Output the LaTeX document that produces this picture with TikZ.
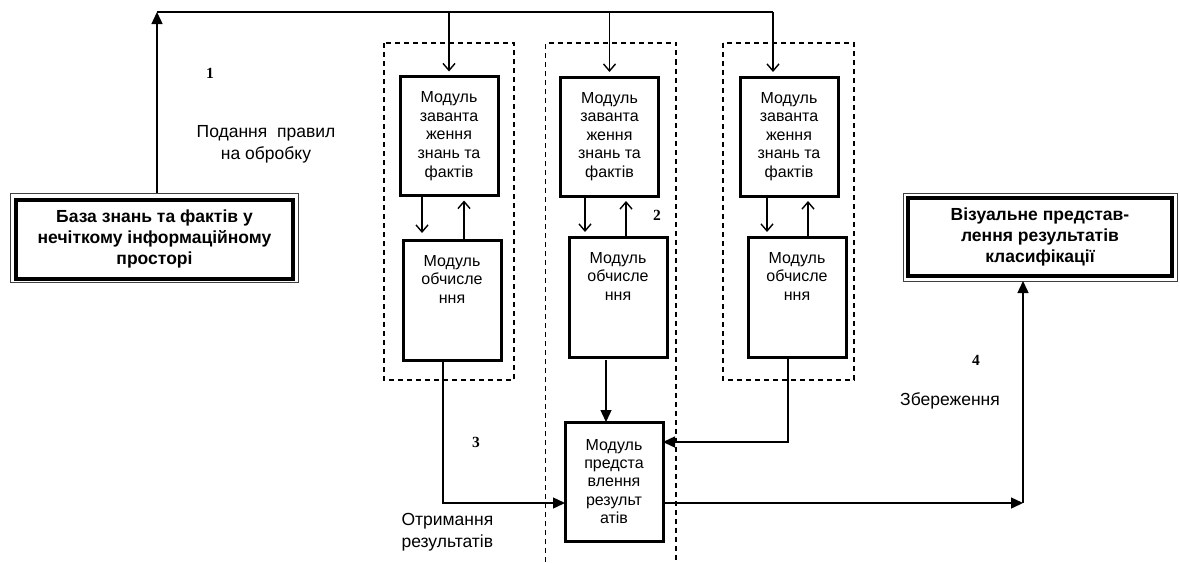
\documentclass[tikz,border=0pt]{standalone}
\usepackage{fontspec}
\setmainfont{Liberation Sans}
\newfontfamily\numfont{Liberation Serif}
\usetikzlibrary{arrows.meta,calc}
\tikzset{
  mod/.style={draw, line width=3pt, minimum width=98pt, minimum height=119pt, inner sep=0pt, outer sep=0pt, align=center, font=\fontsize{16}{18.6}\selectfont},
  big/.style={draw, line width=4pt, align=center, inner sep=0pt, outer sep=0pt, font=\bfseries\fontsize{17.5}{20.8}\selectfont},
  thinframe/.style={line width=0.9pt, black!75},
  cont/.style={line width=1.2pt, dash pattern=on 5pt off 4pt},
  conn/.style={line width=1.4pt},
  openarrow/.style={conn, -{Straight Barb[width=12pt,length=7pt]}},
  farrow/.style={conn, -{Triangle[width=11pt,length=12pt]}},
  lbl/.style={font=\fontsize{17.5}{22}\selectfont, align=center},
  num/.style={font=\numfont\bfseries\fontsize{15.5}{15.5}\selectfont},
  sublab/.style={anchor=north, yshift=-15pt, align=center, inner sep=0pt, font=\fontsize{16}{18.6}\selectfont}
}
\begin{document}
\begin{tikzpicture}[x=1pt,y=-1pt]
\useasboundingbox (0,0) rectangle (1180,562);

% dashed containers
\draw[cont] (384,43) rectangle (514,380);
\draw[cont] (545.5,562) -- (545.5,43) -- (676,43) -- (676,562);
\draw[cont] (723,43) rectangle (854,380);

% big boxes
\node[big, minimum width=277pt, minimum height=79pt] (base) at (154.5,239) {База знань та фактів у\\нечіткому інформаційному\\просторі};
\draw[thinframe] ([xshift=-6pt,yshift=6.5pt]base.north west) rectangle ([xshift=5pt,yshift=-3.5pt]base.south east);

\node[big, minimum width=264pt, minimum height=78pt] (vis) at (1040,237) {Візуальне представ-\\лення результатів\\класифікації};
\draw[thinframe] ([xshift=-5pt,yshift=5pt]vis.north west) rectangle ([xshift=5pt,yshift=-5pt]vis.south east);

% loading modules
\node[mod] (z1) at (449,136) {Модуль\\заванта\\ження\\знань та\\фактів};
\node[mod] (z2) at (609.5,136.5) {Модуль\\заванта\\ження\\знань та\\фактів};
\node[mod] (z3) at (789,136.5) {Модуль\\заванта\\ження\\знань та\\фактів};

% computing modules
\node[mod, minimum height=120pt, label={[sublab]north:Модуль\\обчисле\\ння}] (o1) at (452,300) {};
\node[mod, minimum height=120pt, label={[sublab]north:Модуль\\обчисле\\ння}] (o2) at (618,297) {};
\node[mod, minimum height=120pt, label={[sublab]north:Модуль\\обчисле\\ння}] (o3) at (797,297) {};

% presentation module
\node[mod, font=\fontsize{16}{18.3}\selectfont] (p) at (614,481.5) {Модуль\\предста\\влення\\результ\\атів};

% top bus
\coordinate (tl) at (157,12);
\coordinate (tr) at (773,12);
\coordinate (bt) at ([yshift=6.5pt]base.north);
\draw[farrow] (bt -| tl) -- (tl);
\draw[conn] (tl) -- (tr);
\draw[openarrow, shorten >=5pt] (tl -| z1.north) -- (z1.north);
\draw[openarrow, shorten >=5pt] (tl -| z2.north) -- (z2.north);
\draw[openarrow, shorten >=5pt] (tr) -- (tr |- z3.north);

% inner arrows
\draw[openarrow, shorten >=7pt] ([xshift=-27pt]z1.south) -- ([xshift=-27pt]z1.south |- o1.north);
\draw[openarrow, shorten >=5pt] ([xshift=12pt]o1.north) -- ([xshift=12pt]o1.north |- z1.south);
\draw[openarrow, shorten >=5pt] ([xshift=-24.5pt]z2.south) -- ([xshift=-24.5pt]z2.south |- o2.north);
\draw[openarrow, shorten >=5pt] ([xshift=8pt]o2.north) -- ([xshift=8pt]o2.north |- z2.south);
\draw[openarrow, shorten >=5pt] ([xshift=-22pt]z3.south) -- ([xshift=-22pt]z3.south |- o3.north);
\draw[openarrow, shorten >=5pt] ([xshift=11pt]o3.north) -- ([xshift=11pt]o3.north |- z3.south);

% to presentation module
\draw[farrow] ([xshift=-12pt,yshift=-3pt]o2.south) -- ([xshift=-12pt]o2.south |- p.north);
\draw[farrow] ([xshift=-9pt]o3.south) |- ([yshift=39.5pt]p.east);
\draw[farrow] ([xshift=-9pt]o1.south) |- ([yshift=-21.5pt]p.west);

% output
\coordinate (cr) at (1023,503);
\draw[farrow] ([yshift=-21.5pt]p.east) -- (cr);
\draw[farrow] (cr) -- ([yshift=-5pt]vis.south -| cr);

% labels
\node[num] (n1) at (210,73) {1};
\node[lbl] (t1) at (266,144) {Подання\ \ правил\\на обробку};
\node[num] (n2) at (657,215) {2};
\node[num] (n3) at (476,442) {3};
\node[lbl, align=left, anchor=west] (t3) at (398,532.5) {Отримання\\результатів};
\node[num] (n4) at (976,360) {4};
\node[lbl] (t4) at (950,401) {Збереження};
\end{tikzpicture}
\end{document}
